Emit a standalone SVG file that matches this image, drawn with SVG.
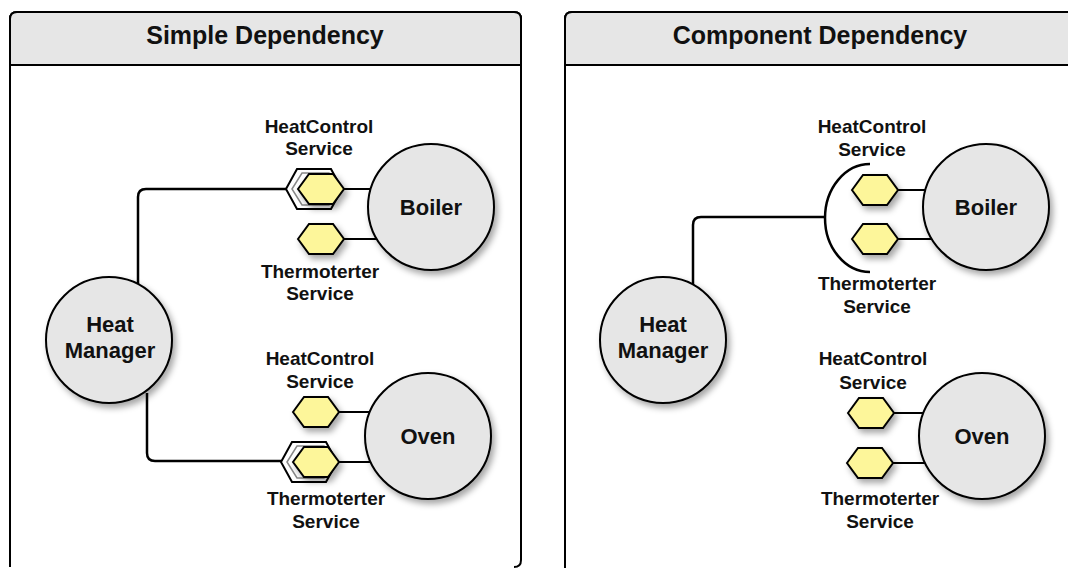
<svg xmlns="http://www.w3.org/2000/svg" width="1068" height="568" viewBox="0 0 1068 568">
<defs>
<filter id="sh" x="-30%" y="-30%" width="170%" height="170%">
<feDropShadow dx="3" dy="4" stdDeviation="3" flood-color="#000" flood-opacity="0.35"/>
</filter>
<polygon id="hex" points="-23,0 -12,-15 12,-15 23,0 12,15 -12,15"/>
<polygon id="sock" points="-35,0 -24,-20 10,-20 21,0 10,20 -24,20"/>
<polygon id="sockin" points="-29,0 -19,-16 8,-16 17,0 8,16 -19,16"/>
</defs>
<style>
.panel{fill:#fff;stroke:#000;stroke-width:2}
.head{fill:#e6e6e6;stroke:#000;stroke-width:2}
.title{font-family:"Liberation Sans",Arial,sans-serif;font-weight:bold;font-size:25px;fill:#111;text-anchor:middle}
.node{fill:#e6e6e6;stroke:#000;stroke-width:2;filter:url(#sh)}
.ntext{font-family:"Liberation Sans",Arial,sans-serif;font-weight:bold;font-size:22px;fill:#111;text-anchor:middle}
.lbl{font-family:"Liberation Sans",Arial,sans-serif;font-weight:bold;font-size:19px;fill:#111;text-anchor:middle}
.iface{fill:#fdf69a;stroke:#000;stroke-width:2;filter:url(#sh)}
.sock{fill:#fff;stroke:#000;stroke-width:2}
.sockin{fill:none;stroke:#888;stroke-width:1.5}
.conn{fill:none;stroke:#000;stroke-width:2.5;stroke-linejoin:round}
.stub{stroke:#000;stroke-width:2}
</style>

<g id="panel-simple">
<path class="panel" d="M10,567 V19 Q10,12 17,12 H514 Q521,12 521,19 V560 Q521,567 514,567"/>
<path class="head" d="M10,65 V19 Q10,12 17,12 H514 Q521,12 521,19 V65 Z"/>
<text class="title" x="265" y="44">Simple Dependency</text>
</g>
<g id="panel-component">
<path class="panel" d="M565,575 V19 Q565,12 572,12 H1080 V575"/>
<path class="head" d="M565,65 V19 Q565,12 572,12 H1080 V65 Z"/>
<text class="title" x="820" y="44">Component Dependency</text>
</g>

<g id="connectors">
<path class="conn" d="M138,284 V197 Q138,189 146,189 H287"/>
<path class="conn" d="M147,393 V453 Q147,461 155,461 H281"/>
<path class="conn" d="M693,285 V225 Q693,217 701,217 H826"/>
<path class="conn" d="M870,164 A45 54 0 0 0 870,272"/>
<line class="stub" x1="344" y1="189" x2="380" y2="189"/>
<line class="stub" x1="344" y1="239" x2="380" y2="239"/>
<line class="stub" x1="338" y1="412" x2="375" y2="412"/>
<line class="stub" x1="338" y1="462" x2="375" y2="462"/>
<line class="stub" x1="897" y1="190" x2="935" y2="190"/>
<line class="stub" x1="897" y1="239" x2="935" y2="239"/>
<line class="stub" x1="892" y1="413" x2="930" y2="413"/>
<line class="stub" x1="891" y1="463" x2="930" y2="463"/>
</g>

<g id="heat-manager-simple">
<circle class="node" cx="109" cy="340" r="63"/>
<text class="ntext" x="110" y="332">Heat</text>
<text class="ntext" x="110" y="358">Manager</text>
</g>
<g id="boiler-simple">
<circle class="node" cx="431" cy="207" r="63"/>
<text class="ntext" x="431" y="215">Boiler</text>
</g>
<g id="oven-simple">
<circle class="node" cx="428" cy="436" r="63"/>
<text class="ntext" x="428" y="444">Oven</text>
</g>
<g id="boiler-heatcontrol-simple">
<use href="#sock" class="sock" x="321" y="189"/>
<use href="#sockin" class="sockin" x="321" y="189"/>
<use href="#hex" class="iface" x="321" y="189"/>
<text class="lbl" x="319" y="133">HeatControl</text>
<text class="lbl" x="319" y="155">Service</text>
</g>
<g id="boiler-thermo-simple">
<use href="#hex" class="iface" x="321" y="239"/>
<text class="lbl" x="320" y="278">Thermoterter</text>
<text class="lbl" x="320" y="300">Service</text>
</g>
<g id="oven-heatcontrol-simple">
<use href="#hex" class="iface" x="316" y="412"/>
<text class="lbl" x="320" y="365">HeatControl</text>
<text class="lbl" x="320" y="388">Service</text>
</g>
<g id="oven-thermo-simple">
<use href="#sock" class="sock" x="316" y="462"/>
<use href="#sockin" class="sockin" x="316" y="462"/>
<use href="#hex" class="iface" x="316" y="462"/>
<text class="lbl" x="326" y="505">Thermoterter</text>
<text class="lbl" x="326" y="528">Service</text>
</g>

<g id="heat-manager-component">
<circle class="node" cx="663" cy="340" r="63"/>
<text class="ntext" x="663" y="332">Heat</text>
<text class="ntext" x="663" y="358">Manager</text>
</g>
<g id="boiler-component">
<circle class="node" cx="986" cy="207" r="63"/>
<text class="ntext" x="986" y="215">Boiler</text>
</g>
<g id="oven-component">
<circle class="node" cx="982" cy="436" r="63"/>
<text class="ntext" x="982" y="444">Oven</text>
</g>
<g id="boiler-heatcontrol-component">
<use href="#hex" class="iface" x="875" y="190"/>
<text class="lbl" x="872" y="133">HeatControl</text>
<text class="lbl" x="872" y="156">Service</text>
</g>
<g id="boiler-thermo-component">
<use href="#hex" class="iface" x="875" y="239"/>
<text class="lbl" x="877" y="290">Thermoterter</text>
<text class="lbl" x="877" y="313">Service</text>
</g>
<g id="oven-heatcontrol-component">
<use href="#hex" class="iface" x="871" y="413"/>
<text class="lbl" x="873" y="365">HeatControl</text>
<text class="lbl" x="873" y="389">Service</text>
</g>
<g id="oven-thermo-component">
<use href="#hex" class="iface" x="870" y="463"/>
<text class="lbl" x="880" y="505">Thermoterter</text>
<text class="lbl" x="880" y="528">Service</text>
</g>
</svg>
